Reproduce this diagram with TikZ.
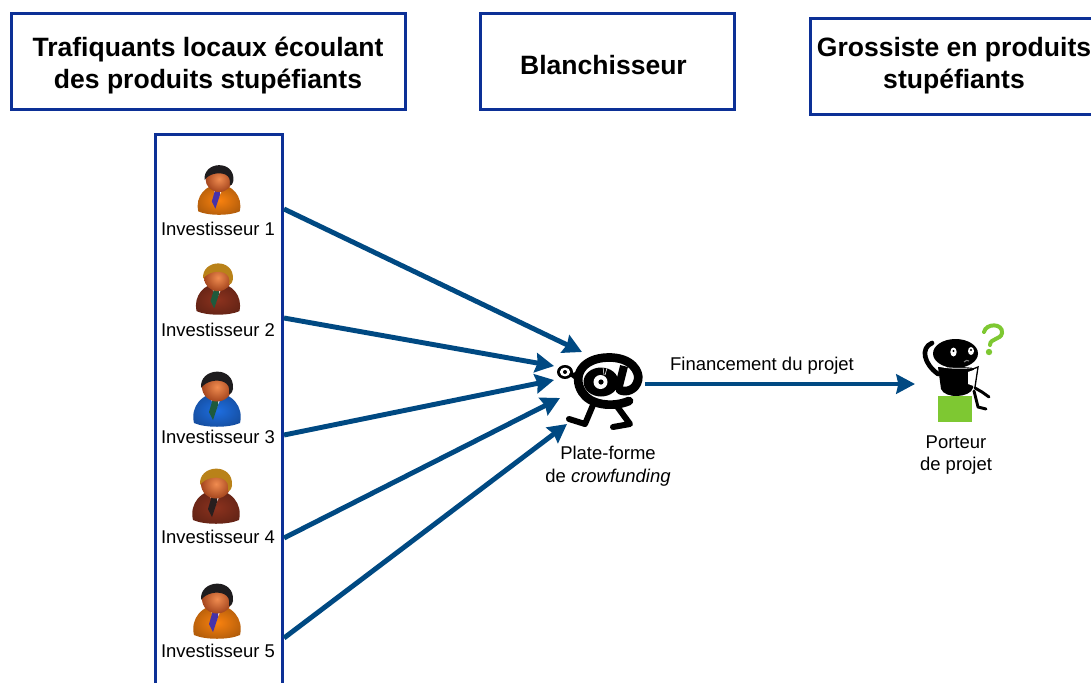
\documentclass[tikz,border=0pt]{standalone}
\usepackage{fontspec}
\setmainfont{Liberation Sans}
\usetikzlibrary{arrows.meta}
\definecolor{frameblue}{RGB}{12,48,150}
\definecolor{arrowblue}{RGB}{0,73,130}
\definecolor{qgreen}{RGB}{126,200,50}
\definecolor{suitorange}{RGB}{250,130,15}
\definecolor{suitbrown}{RGB}{140,50,30}
\definecolor{suitblue}{RGB}{30,110,225}
\definecolor{hairdark}{RGB}{30,28,30}
\definecolor{hairblond}{RGB}{185,130,25}
\definecolor{tieblue}{RGB}{70,50,170}
\definecolor{tiegreen}{RGB}{30,90,60}
\definecolor{tiedark}{RGB}{40,30,30}
\definecolor{skindark}{RGB}{165,70,30}
\definecolor{skinlight}{RGB}{240,140,80}
\tikzset{
  x=0.75pt,y=-0.75pt,
  headbox/.style={draw=frameblue,line width=2.2pt,fill=white,inner sep=0pt},
  headtext/.style={align=center,inner sep=0pt,font=\fontsize{19.9}{24}\selectfont\bfseries},
  lab/.style={align=center,inner sep=0pt,font=\fontsize{13.85}{17}\selectfont},
  flow/.style={draw=arrowblue,line width=3.7pt,-{Stealth[length=14pt,width=14.5pt,inset=1.5pt]}},
  pics/investor/.style n args={3}{code={
    % body
    \shade[inner color=#1,outer color=#1!72!black] (-23,26) .. controls (-27,9) and (-14,-4) .. (0,-4) .. controls (14,-4) and (27,9) .. (23,26) .. controls (12,31) and (-12,31) .. (-23,26) -- cycle;
    \fill[white!85!#1] (-9,-3) -- (6,-3) -- (-1,12) -- cycle;
    \fill[#3] (-3,-2) -- (1,-2) -- (1,8) -- (-4,23) -- (-8,15) -- cycle;
    % head
    \shade[inner color=skinlight,outer color=skindark] (0,-10) ellipse (15 and 14.5);
    \fill[#2] (-16,-9) .. controls (-18,-30) and (18,-32) .. (16,-8) .. controls (15,-4) and (13,-2) .. (12,-3) .. controls (13,-10) and (11,-13) .. (7,-15) .. controls (0,-18) and (-11,-16) .. (-16,-9) -- cycle;
  }}
}
\begin{document}
\begin{tikzpicture}
\useasboundingbox (0,0) rectangle (1091,682);
\clip (0,0) rectangle (1091,682);
\node[headbox,minimum width=295.5pt,minimum height=71.5pt] (traf) at (208.5,61.5) {};
\node[headtext] (traftxt) at (208,65.5) {Trafiquants locaux écoulant\\des produits stupéfiants};
\node[headbox,minimum width=191pt,minimum height=71.5pt] (blan) at (607.5,61.5) {};
\node[headtext] (blantxt) at (603.5,65.5) {Blanchisseur};
\node[headbox,anchor=west,minimum width=240pt,minimum height=71.5pt] (gros) at (809,66.5) {};
\node[headtext] (grostxt) at (954,65.5) {Grossiste en produits\\stupéfiants};
\node[draw=frameblue,line width=2.2pt,minimum width=95.5pt,minimum height=450pt,inner sep=0pt,anchor=north] (col) at (219,133) {};

\pic[scale=.9] at (219,188) {investor={suitorange}{hairdark}{tieblue}};
\pic[scale=.93] at (218,287) {investor={suitbrown}{hairblond}{tiegreen}};
\pic at (217,397) {investor={suitblue}{hairdark}{tiegreen}};
\pic at (216,494) {investor={suitbrown}{hairblond}{tiedark}};
\pic at (217,609) {investor={suitorange}{hairdark}{tieblue}};

\node[lab] (i1) at (218,229) {Investisseur 1};
\node[lab] (i2) at (218,330) {Investisseur 2};
\node[lab] (i3) at (218,437) {Investisseur 3};
\node[lab] (i4) at (218,537) {Investisseur 4};
\node[lab] (i5) at (218,651) {Investisseur 5};

\coordinate (s1) at (284,209);
\coordinate (s2) at (284,318);
\coordinate (s3) at (284,435);
\coordinate (s4) at (284,538);
\coordinate (s5) at (284,638);
\coordinate (t1) at (582,352);
\coordinate (t2) at (554,366);
\coordinate (t3) at (554,380);
\coordinate (t4) at (560,398);
\coordinate (t5) at (567,424);
\coordinate (m1) at (645,384);
\coordinate (m2) at (915,384);
\foreach \n in {1,...,5} \draw[flow] (s\n) -- (t\n);
\draw[flow] (m1) -- (m2);
\node[lab] (fin) at (762,366) {Financement du projet};

% @ mascot
\draw[line cap=round,line width=4.5pt,line join=round] (593,405) -- (585,424) -- (569,419);
\draw[line cap=round,line width=4.5pt,line join=round] (616,405) -- (630,424) -- (613,427);
\draw[line width=6.5pt,line cap=round,line join=round] (629,401) .. controls (612,408) and (590,405) .. (582,392) .. controls (572,376) and (582,358) .. (608,357.5) .. controls (632,357) and (640,372) .. (638,380) .. controls (636,390) and (626,393) .. (620,390);
\fill (601,382) ellipse (17.5 and 14.5);
\draw[line width=6pt] (624,366) -- (618,390);
\fill[white] (600.5,382) circle (7);
\fill (601,382) circle (2.6);
\draw[white,line width=.4pt] (603,367) -- (604,375) (607,368) -- (605,375);
\fill (566,373) -- (582,372) -- (578,382) -- cycle;
\fill (565,372) ellipse (8 and 7);
\fill[white] (565,372) ellipse (5.2 and 4.4);
\fill (565,372) circle (2);
\node[lab] (plate) at (608,466) {Plate-forme\\de \textit{crowfunding}};

% thinker mascot
\draw[line cap=round,line join=round,line width=3.5pt] (938,374) .. controls (924,364) and (920,348) .. (932,343);
\fill (938,367) -- (974,367) -- (973,388) .. controls (970,398) and (945,399) .. (941,389) -- cycle;
\fill (955.5,353.5) ellipse (22.5 and 14.5);
\draw[white,line width=.6pt] (934,365) .. controls (945,369) and (965,369) .. (977,367);
\fill[white] (953.5,352) ellipse (3.2 and 4.5);
\fill[white] (971,351) ellipse (3 and 4);
\fill (953.5,351) circle (1.2);
\fill (971,350) circle (1.2);
\draw[gray,line width=.8pt] (964,362) .. controls (965,360) and (968,360) .. (969,361);
\draw[line width=1pt] (968,371) -- (978,367) -- (975,387);
\fill[white] (968,372) -- (976.5,369) -- (973.5,386) -- (968,384) -- cycle;
\draw[line width=2.2pt,line cap=round,line join=round] (975,388) -- (982,392) -- (989,397);
\draw[line width=2.2pt,line cap=round,line join=round] (974,391) -- (978,407) -- (986,409);
\fill[qgreen] (938,396) rectangle (972,422);
\draw[qgreen,line width=3pt,line cap=round] (984,332) .. controls (986,323) and (1003,323) .. (1002,333) .. controls (1001,340) and (990,338) .. (990,345);
\fill[qgreen] (989,352) circle (3.2);
\node[lab] (port) at (956,455) {Porteur\\de projet};
\end{tikzpicture}
\end{document}
